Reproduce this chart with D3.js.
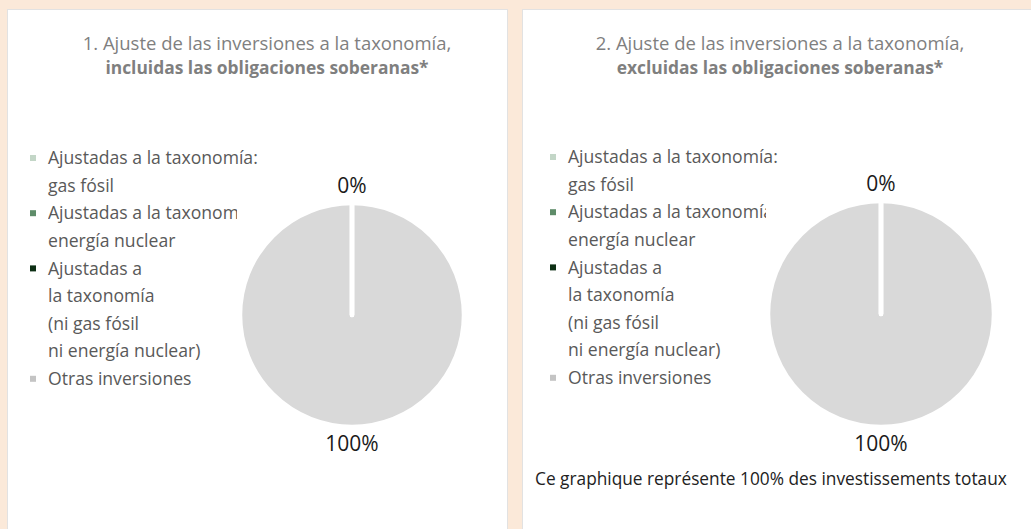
<!DOCTYPE html>
<html>
<head>
<meta charset="utf-8">
<script src="https://cdn.jsdelivr.net/npm/d3@7"></script>
<style>
  body { margin: 0; background: #fbe9d9; }
  svg { display: block; }
</style>
</head>
<body>
<svg id="chart"></svg>
<script>
// Legend categories, each one split in the lines shown in the picture
var categories = [
  ["Ajustadas a la taxonomía:", "gas fósil"],
  ["Ajustadas a la taxonomía:", "energía nuclear"],
  ["Ajustadas a", "la taxonomía", "(ni gas fósil", "ni energía nuclear)"],
  ["Otras inversiones"]
];
var colours = ["#c3d6c7", "#5e8c69", "#0d2f14", "#c4c4c4"];
var sliceColours = ["#c3d6c7", "#5e8c69", "#0d2f14", "#d9d9d9"];

// Share of investments (%) per category
var valuesIncluded = [0, 0, 0, 100];
var valuesExcluded = [0, 0, 0, 100];

var titlesLine1 = ["1. Ajuste de las inversiones a la taxonomía,", "2. Ajuste de las inversiones a la taxonomía,"];
var titlesLine2 = ["incluidas las obligaciones soberanas*", "excluidas las obligaciones soberanas*"];
var footnote = "Ce graphique représente 100% des investissements totaux";

var width = 1031,
    height = 529;

var svg = d3.select("#chart")
  .attr("width", width)
  .attr("height", height);

// panel boxes and chart placement
var panels = [
  { x: 7, w: 500, values: valuesIncluded, title1: titlesLine1[0], title2: titlesLine2[0],
    titleX: 267, cx: 352, cy: 315, r: 112, legX: 33, legY: 158, clipW: 189 },
  { x: 522, w: 520, values: valuesExcluded, title1: titlesLine1[1], title2: titlesLine2[1],
    titleX: 780, cx: 881, cy: 314, r: 113, legX: 553, legY: 157, clipW: 198 }
];

var pie = d3.pie().sort(null).value(function(d) { return d; });

panels.forEach(function(p, k) {
  var g = svg.append("g");

  g.append("rect")
    .attr("x", p.x + 0.5)
    .attr("y", 9.5)
    .attr("width", p.w)
    .attr("height", height)
    .attr("fill", "#fff")
    .attr("stroke", "#e2e2e2");

  // title
  g.append("text")
    .attr("x", p.titleX)
    .attr("y", 50)
    .attr("text-anchor", "middle")
    .attr("font-family", "Open Sans")
    .attr("font-size", 18.5)
    .attr("fill", "#7f7f7f")
    .text(p.title1);
  g.append("text")
    .attr("x", p.titleX)
    .attr("y", 74)
    .attr("text-anchor", "middle")
    .attr("font-family", "Open Sans")
    .attr("font-weight", "bold")
    .attr("font-size", 17.4)
    .attr("fill", "#7f7f7f")
    .text(p.title2);

  // legend
  g.append("clipPath")
    .attr("id", "clip" + k)
    .append("rect")
      .attr("x", p.legX + 15)
      .attr("y", 0)
      .attr("width", p.clipW)
      .attr("height", height);

  var lineH = 27.6, row = 0;
  categories.forEach(function(lines, i) {
    var y0 = p.legY + row * lineH;
    g.append("rect")
      .attr("x", p.legX - 3)
      .attr("y", y0 - 3)
      .attr("width", 6)
      .attr("height", 6)
      .attr("fill", colours[i]);
    lines.forEach(function(t, j) {
      var txt = g.append("text")
        .attr("x", p.legX + 15)
        .attr("y", p.legY + row * lineH)
        .attr("dy", "0.35em")
        .attr("font-family", "Open Sans")
        .attr("font-size", 17.6)
        .attr("fill", "#595959")
        .text(t);
      if (i == 1 && j == 0) txt.attr("clip-path", "url(#clip" + k + ")");
      row++;
    });
  });

  // pie
  var arc = d3.arc().innerRadius(0).outerRadius(p.r);
  var labelArc = d3.arc().innerRadius(p.r + 17).outerRadius(p.r + 17);
  var pg = g.append("g")
    .attr("transform", "translate(" + p.cx + "," + p.cy + ")");

  var arcs = pie(p.values);
  // big slices first so the empty ones stay visible as white lines on top
  var drawOrder = arcs.slice().sort(function(a, b) { return b.value - a.value; });

  pg.selectAll("path")
    .data(drawOrder)
    .enter().append("path")
    .attr("d", arc)
    .attr("fill", function(d) { return sliceColours[d.index]; })
    .attr("stroke", "#fff")
    .attr("stroke-width", 4.5)
    .attr("stroke-linejoin", "round");

  // one label per position (empty slices share the same spot)
  var seen = {};
  var labelled = arcs.filter(function(d) {
    var key = labelArc.centroid(d).map(Math.round).join(",");
    if (seen[key]) return false;
    seen[key] = true;
    return true;
  });

  pg.selectAll("text")
    .data(labelled)
    .enter().append("text")
    .attr("transform", function(d) { return "translate(" + labelArc.centroid(d) + ")"; })
    .attr("dy", "0.35em")
    .attr("text-anchor", "middle")
    .attr("font-family", "Open Sans")
    .attr("font-size", 21)
    .attr("fill", "#1a1a1a")
    .text(function(d) { return d.data + "%"; });
});

svg.append("text")
  .attr("x", 535)
  .attr("y", 485)
  .attr("font-family", "Open Sans")
  .attr("font-size", 17.3)
  .attr("fill", "#222")
  .text(footnote);
</script>
</body>
</html>
